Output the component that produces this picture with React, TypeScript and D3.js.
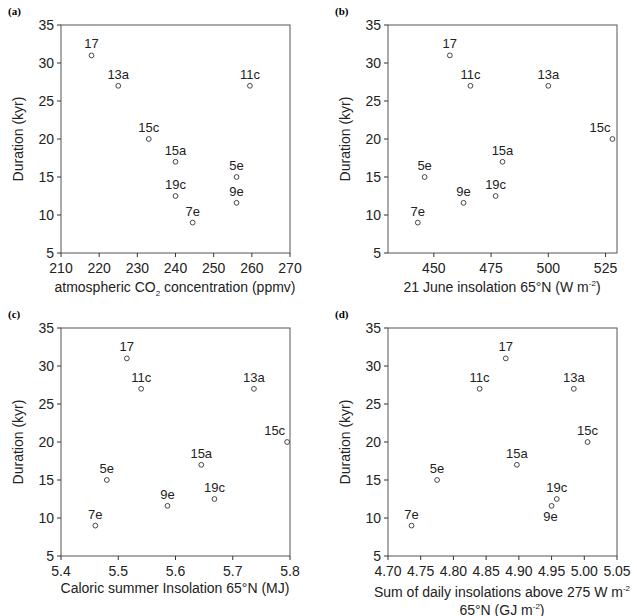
import React from 'react';
import * as d3 from 'd3';

const names = ['17', '13a', '11c', '15c', '15a', '5e', '19c', '9e', '7e'];
const duration = [31, 27, 27, 20, 17, 15, 12.5, 11.6, 9];
const co2 = [218, 225, 259.5, 233, 240, 256, 240, 256, 244.5];
const june = [457, 500, 466, 528, 480, 446, 477, 463, 443];
const caloric = [5.515, 5.737, 5.54, 5.795, 5.645, 5.48, 5.668, 5.586, 5.46];
const sumIns = [4.88, 4.984, 4.84, 5.005, 4.897, 4.775, 4.958, 4.95, 4.736];
const yTicks = [5, 10, 15, 20, 25, 30, 35];

const font = '"Liberation Sans", Arial, sans-serif';

interface PanelProps {
  tag: string;
  x0: number;
  y0: number;
  xs: number[];
  domain: [number, number];
  ticks: number[];
  fmt: (v: number) => string;
  title: React.ReactNode;
  labelPos?: Record<string, 'below' | 'left'>;
}

function Panel({ tag, x0, y0, xs, domain, ticks, fmt, title, labelPos = {} }: PanelProps) {
  const w = 229, h = 228;
  const x = d3.scaleLinear().domain(domain).range([0, w]);
  const y = d3.scaleLinear().domain([5, 35]).range([h, 0]);
  const col = '#333';
  return (
    <g transform={`translate(${x0},${y0})`} fontFamily={font}>
      <text x={-53} y={-10} fontFamily="'Liberation Serif', serif" fontWeight="bold" fontSize={11}>({tag})</text>
      <rect x={0} y={0} width={w} height={h} fill="none" stroke="#555" strokeWidth={1} />
      {yTicks.map(t => (
        <g key={t}>
          <line x1={-4} x2={0} y1={y(t)} y2={y(t)} stroke={col} />
          <text x={-7} y={y(t)} dy="0.35em" textAnchor="end" fontSize={14} fill="#222">{t}</text>
        </g>
      ))}
      {ticks.map(t => (
        <g key={t}>
          <line x1={x(t)} x2={x(t)} y1={h} y2={h + 4} stroke={col} />
          <text x={x(t)} y={h + 20} textAnchor="middle" fontSize={14} fill="#222">{fmt(t)}</text>
        </g>
      ))}
      <text transform={`translate(-38,${h / 2}) rotate(-90)`} textAnchor="middle" fontSize={14} fill="#222">Duration (kyr)</text>
      {title}
      {names.map((n, i) => {
        const px = x(xs[i]), py = y(duration[i]);
        const pos = labelPos[n];
        return (
          <g key={n}>
            <circle cx={px} cy={py} r={2.4} fill="white" stroke="#333" strokeWidth={0.9} />
            {pos === 'below' ? (
              <text x={px - 1} y={py + 15} textAnchor="middle" fontSize={13} fill="#222">{n}</text>
            ) : pos === 'left' ? (
              <text x={px - 2} y={py - 7} textAnchor="end" fontSize={13} fill="#222">{n}</text>
            ) : (
              <text x={px} y={py - 7} textAnchor="middle" fontSize={13} fill="#222">{n}</text>
            )}
          </g>
        );
      })}
    </g>
  );
}

export default function App() {
  const sup = (s: string) => <tspan fontSize={8} dy={-6}>{s}</tspan>;
  return (
    <svg width={637} height={616} style={{ position: 'absolute', left: 0, top: 0, background: 'white' }}>
      <Panel tag="a" x0={61} y0={25} xs={co2} domain={[210, 270]} ticks={d3.range(210, 271, 10)} fmt={v => String(v)}
        title={<text x={114} y={267} textAnchor="middle" fontSize={14} fill="#222">atmospheric CO<tspan fontSize={8} dy={4}>2</tspan><tspan dy={-4}> concentration (ppmv)</tspan></text>} />
      <Panel tag="b" x0={388} y0={25} xs={june} domain={[430, 530]} ticks={[450, 475, 500, 525]} fmt={v => String(v)}
        labelPos={{ '15c': 'left' }}
        title={<text x={114} y={267} textAnchor="middle" fontSize={14} fill="#222">21 June insolation 65°N (W m{sup('-2')}<tspan dy={6}>)</tspan></text>} />
      <Panel tag="c" x0={61} y0={328} xs={caloric} domain={[5.4, 5.8]} ticks={[5.4, 5.5, 5.6, 5.7, 5.8]} fmt={d3.format('.1f')}
        labelPos={{ '15c': 'left' }}
        title={<text x={114} y={265} textAnchor="middle" fontSize={14} fill="#222">Caloric summer Insolation 65°N (MJ)</text>} />
      <Panel tag="d" x0={388} y0={328} xs={sumIns} domain={[4.7, 5.05]} ticks={d3.range(0, 8).map(i => 4.7 + i * 0.05)} fmt={d3.format('.2f')}
        labelPos={{ '9e': 'below' }}
        title={<g>
          <text x={114} y={269} textAnchor="middle" fontSize={14} fill="#222">Sum of daily insolations above 275 W m{sup('-2')}</text>
          <text x={114} y={286.5} textAnchor="middle" fontSize={14} fill="#222">65°N (GJ m{sup('-2')}<tspan dy={6}>)</tspan></text>
        </g>} />
    </svg>
  );
}
